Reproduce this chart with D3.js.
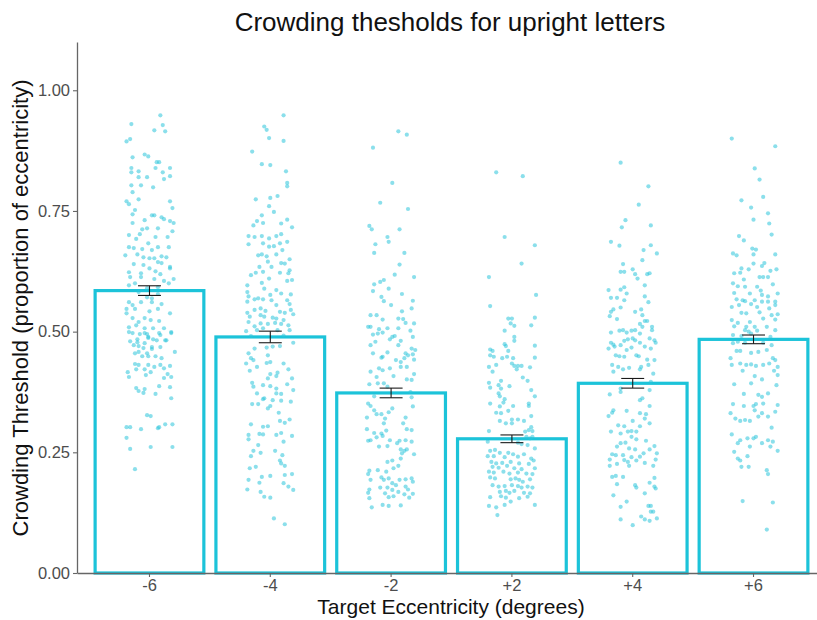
<!DOCTYPE html>
<html>
<head>
<meta charset="utf-8">
<script src="https://cdn.jsdelivr.net/npm/d3@7/dist/d3.min.js"></script>
<style>
  html, body { margin: 0; padding: 0; background: #ffffff; }
  svg { display: block; font-family: "Liberation Sans", Arial, Helvetica, sans-serif; }
</style>
</head>
<body>
<svg id="chart" width="817" height="620"></svg>
<script>
// Eccentricity conditions (degrees)
const categories = ["-6", "-4", "-2", "+2", "+4", "+6"];
// Mean crowding threshold per condition and its standard error
const means = [0.585, 0.489, 0.373, 0.278, 0.393, 0.484];
const stderrs = [0.010, 0.012, 0.010, 0.008, 0.010, 0.009];
const yTicks = [0, 0.25, 0.5, 0.75, 1.0];

// Individual thresholds per condition: [horizontal jitter (category units), threshold]
const ptsM6 = [[0.09,0.948],[-0.15,0.930],[0.11,0.928],[0.04,0.917],[0.13,0.915],[-0.16,0.899],[-0.19,0.894],[-0.14,0.861],[-0.04,0.867],[-0.01,0.863],[0.06,0.851],[0.08,0.851],[-0.15,0.839],[0.05,0.839],[0.17,0.839],[-0.09,0.832],[0.11,0.830],[-0.15,0.830],[0.17,0.822],[-0.09,0.820],[-0.02,0.820],[0.12,0.816],[-0.15,0.803],[-0.07,0.803],[0.03,0.799],[-0.14,0.789],[-0.19,0.770],[-0.09,0.774],[-0.17,0.764],[0.17,0.770],[0.19,0.756],[-0.12,0.752],[-0.14,0.743],[0.02,0.741],[0.04,0.741],[0.10,0.737],[0.12,0.733],[-0.04,0.731],[0.17,0.729],[-0.14,0.725],[0.20,0.725],[-0.06,0.712],[-0.02,0.714],[0.07,0.714],[0.19,0.708],[-0.17,0.700],[-0.08,0.702],[0.05,0.696],[0.15,0.696],[-0.11,0.692],[-0.01,0.683],[-0.17,0.675],[-0.13,0.673],[-0.06,0.671],[0.02,0.669],[0.07,0.675],[0.16,0.675],[-0.20,0.658],[-0.10,0.660],[-0.05,0.654],[0,0.652],[0.04,0.652],[0.10,0.656],[0.14,0.654],[-0.13,0.640],[-0.05,0.638],[0.07,0.644],[0.10,0.642],[0,0.631],[0.17,0.634],[-0.17,0.623],[-0.07,0.621],[0.05,0.625],[0.09,0.619],[0.17,0.631],[-0.16,0.613],[-0.07,0.613],[0.04,0.609],[0.12,0.605],[0.20,0.609],[-0.12,0.600],[-0.17,0.596],[-0.02,0.590],[0.07,0.592],[0.16,0.600],[-0.09,0.582],[-0.02,0.571],[0.02,0.569],[0.07,0.578],[-0.17,0.561],[-0.14,0.555],[-0.07,0.561],[0.02,0.561],[0.10,0.557],[-0.19,0.547],[-0.12,0.547],[0,0.542],[0.07,0.547],[0.17,0.538],[-0.19,0.538],[-0.14,0.528],[-0.09,0.520],[-0.04,0.528],[0.01,0.524],[0.08,0.522],[-0.17,0.509],[-0.11,0.513],[-0.04,0.507],[0.03,0.507],[0.12,0.507],[0.18,0.499],[-0.14,0.497],[-0.02,0.495],[0.08,0.497],[-0.10,0.484],[-0.01,0.487],[0.06,0.482],[0.13,0.482],[-0.13,0.472],[-0.05,0.466],[0.02,0.468],[0.09,0.468],[0.21,0.458],[-0.09,0.458],[-0.01,0.449],[-0.17,0.499],[-0.08,0.495],[-0.04,0.497],[-0.01,0.489],[0.03,0.484],[0.09,0.493],[0.18,0.497],[-0.16,0.480],[-0.10,0.478],[-0.09,0.470],[-0.04,0.476],[0.14,0.482],[-0.12,0.455],[-0.06,0.449],[-0.02,0.455],[0.02,0.464],[0.05,0.449],[0.10,0.445],[-0.12,0.433],[-0.09,0.431],[-0.01,0.431],[0.04,0.427],[0.09,0.431],[0.12,0.424],[0.17,0.429],[-0.18,0.416],[-0.11,0.422],[-0.04,0.422],[0.01,0.416],[0.15,0.412],[-0.17,0.406],[-0.03,0.410],[0.12,0.404],[0.18,0.406],[-0.11,0.383],[-0.09,0.377],[-0.05,0.373],[-0.04,0.381],[0.08,0.387],[0.17,0.385],[0.05,0.371],[0.18,0.362],[-0.02,0.327],[0.01,0.325],[-0.19,0.302],[-0.16,0.302],[-0.07,0.298],[0.07,0.300],[0.08,0.302],[0.13,0.308],[0.19,0.308],[-0.19,0.280],[-0.16,0.257],[0.01,0.261],[0.19,0.261],[-0.12,0.215]];

const ptsM4 = [[0.11,0.948],[-0.05,0.925],[-0.03,0.918],[-0.01,0.901],[0.11,0.895],[-0.15,0.873],[-0.07,0.847],[0,0.845],[0.13,0.832],[0.14,0.808],[0.14,0.801],[-0.12,0.774],[0,0.777],[0.06,0.781],[-0.01,0.760],[0.03,0.748],[-0.07,0.741],[-0.11,0.729],[-0.06,0.725],[-0.14,0.720],[0.09,0.724],[0.14,0.732],[0.18,0.716],[-0.18,0.698],[-0.13,0.696],[-0.07,0.698],[-0.01,0.693],[0.05,0.698],[0.09,0.702],[0.14,0.686],[-0.18,0.681],[-0.06,0.683],[-0.01,0.676],[0.03,0.677],[0.08,0.683],[0.10,0.669],[-0.10,0.658],[-0.07,0.660],[-0.03,0.656],[0.05,0.660],[-0.02,0.645],[0.09,0.642],[0.12,0.641],[0.16,0.650],[-0.09,0.634],[0.01,0.634],[0.16,0.627],[-0.16,0.617],[-0.12,0.622],[-0.06,0.624],[0.08,0.622],[0.15,0.621],[-0.01,0.610],[0.18,0.607],[-0.19,0.596],[-0.07,0.601],[0.14,0.605],[-0.05,0.589],[0.05,0.586],[0.09,0.579],[0.17,0.577],[-0.19,0.582],[-0.18,0.573],[-0.13,0.567],[-0.10,0.569],[-0.06,0.567],[0,0.576],[0.01,0.565],[0.14,0.565],[-0.19,0.562],[0.05,0.555],[0.16,0.557],[-0.13,0.545],[-0.19,0.539],[-0.08,0.548],[-0.04,0.543],[0.08,0.541],[0.12,0.539],[0.17,0.545],[-0.17,0.531],[-0.08,0.534],[-0.05,0.531],[0.02,0.529],[0.05,0.527],[0.11,0.524],[0.19,0.536],[-0.18,0.520],[-0.13,0.511],[-0.08,0.517],[-0.02,0.516],[0.04,0.518],[0.09,0.516],[0.15,0.513],[-0.20,0.501],[-0.11,0.503],[-0.06,0.507],[0.06,0.503],[0.16,0.503],[-0.16,0.491],[0.11,0.492],[0.19,0.477],[-0.13,0.465],[0.02,0.469],[-0.03,0.467],[0.08,0.470],[-0.18,0.455],[-0.16,0.445],[-0.14,0.441],[-0.20,0.434],[-0.02,0.451],[0,0.437],[-0.03,0.435],[0.11,0.434],[-0.11,0.427],[0.15,0.422],[-0.17,0.419],[0.06,0.415],[0,0.412],[0.18,0.403],[-0.02,0.403],[0.05,0.408],[-0.15,0.394],[-0.06,0.389],[0,0.387],[0.05,0.382],[0.14,0.391],[-0.14,0.386],[-0.11,0.372],[0.09,0.371],[0.05,0.372],[0.19,0.379],[-0.05,0.362],[0.02,0.358],[0.09,0.357],[0.17,0.355],[-0.15,0.350],[-0.10,0.350],[-0.06,0.360],[0,0.346],[-0.02,0.341],[0.07,0.332],[0.12,0.311],[0.16,0.318],[0.08,0.315],[-0.16,0.308],[-0.06,0.303],[-0.02,0.304],[-0.18,0.286],[-0.09,0.288],[-0.06,0.287],[0.05,0.286],[0.09,0.290],[0.18,0.284],[-0.18,0.277],[-0.10,0.265],[0.11,0.272],[-0.14,0.253],[-0.16,0.242],[-0.08,0.249],[0.04,0.253],[0.10,0.244],[0.08,0.233],[0.09,0.227],[0.12,0.222],[-0.12,0.220],[-0.17,0.217],[0.18,0.205],[0,0.201],[-0.07,0.199],[0.12,0.203],[-0.18,0.193],[-0.09,0.187],[0.11,0.186],[0.15,0.179],[-0.19,0.173],[0.19,0.172],[-0.08,0.168],[-0.05,0.158],[0,0.156],[0.03,0.113],[0.12,0.101]];

const ptsM2 = [[0.06,0.915],[0.13,0.908],[-0.15,0.881],[0.01,0.808],[-0.09,0.767],[0.14,0.754],[-0.18,0.719],[-0.16,0.712],[0.07,0.712],[-0.03,0.696],[-0.02,0.686],[-0.13,0.681],[-0.14,0.663],[0.11,0.663],[0.07,0.639],[0.03,0.618],[0.19,0.613],[-0.14,0.598],[-0.09,0.603],[-0.06,0.607],[-0.02,0.589],[-0.15,0.584],[0.09,0.578],[-0.08,0.572],[-0.06,0.563],[0,0.555],[0.18,0.564],[0.17,0.548],[-0.17,0.534],[-0.12,0.534],[-0.07,0.525],[0.06,0.527],[0.10,0.526],[0.09,0.542],[-0.19,0.510],[-0.17,0.510],[-0.10,0.505],[-0.03,0.507],[0.01,0.489],[0.06,0.507],[0.12,0.518],[0.16,0.502],[0.19,0.517],[-0.15,0.494],[-0.11,0.496],[-0.07,0.498],[-0.01,0.484],[0.03,0.491],[0.08,0.481],[0.18,0.489],[-0.17,0.472],[-0.13,0.479],[0.06,0.472],[0.17,0.465],[0.20,0.462],[-0.15,0.455],[-0.07,0.448],[-0.03,0.457],[-0.08,0.446],[0.12,0.455],[0.14,0.451],[0.18,0.453],[0.04,0.441],[0.08,0.437],[0.11,0.445],[0.19,0.442],[-0.17,0.417],[-0.10,0.424],[-0.07,0.420],[-0.01,0.424],[0.08,0.427],[0.13,0.427],[-0.12,0.406],[0.02,0.408],[0.13,0.401],[0.17,0.400],[0.19,0.412],[-0.18,0.391],[-0.11,0.393],[-0.06,0.393],[-0.03,0.386],[0.16,0.375],[0.17,0.364],[-0.14,0.366],[-0.19,0.351],[-0.17,0.346],[0.01,0.341],[-0.02,0.333],[-0.14,0.337],[0.18,0.345],[-0.12,0.329],[-0.08,0.329],[-0.20,0.322],[-0.05,0.320],[0.12,0.322],[-0.06,0.310],[0.10,0.310],[0.13,0.298],[-0.20,0.298],[-0.14,0.290],[-0.08,0.289],[-0.04,0.295],[0.17,0.296],[-0.17,0.275],[-0.12,0.281],[-0.07,0.284],[-0.01,0.275],[-0.19,0.274],[0.07,0.274],[0.12,0.275],[0.17,0.272],[-0.10,0.262],[-0.03,0.263],[0.05,0.269],[0.08,0.256],[0.11,0.253],[0.13,0.256],[0.19,0.246],[0.09,0.248],[0.01,0.233],[0.08,0.237],[-0.03,0.230],[0.06,0.222],[0.02,0.217],[-0.18,0.212],[-0.11,0.213],[-0.04,0.210],[-0.19,0.205],[-0.08,0.198],[-0.17,0.193],[-0.06,0.193],[-0.02,0.196],[0.01,0.186],[0.04,0.182],[0.07,0.193],[0.12,0.194],[0.17,0.196],[0.18,0.189],[-0.18,0.173],[-0.09,0.177],[-0.03,0.177],[0.01,0.172],[0.06,0.168],[0.12,0.179],[0.14,0.173],[-0.19,0.166],[-0.05,0.165],[0.11,0.163],[0.18,0.164],[-0.18,0.155],[-0.02,0.157],[0.02,0.159],[0.15,0.156],[-0.16,0.136],[-0.07,0.141],[-0.02,0.139],[0.08,0.140]];

const ptsP2 = [[-0.13,0.830],[0.09,0.822],[-0.06,0.696],[0.19,0.679],[0.08,0.641],[-0.19,0.613],[0.20,0.576],[-0.18,0.553],[-0.03,0.527],[0,0.527],[-0.01,0.517],[0.02,0.512],[0.19,0.529],[0.16,0.513],[-0.06,0.502],[0.02,0.489],[0.02,0.481],[-0.06,0.474],[-0.05,0.470],[0.19,0.471],[-0.18,0.463],[-0.16,0.460],[-0.03,0.460],[-0.18,0.451],[-0.15,0.448],[-0.08,0.445],[-0.04,0.448],[0.01,0.445],[0.19,0.446],[-0.13,0.431],[-0.19,0.427],[0,0.434],[0.02,0.429],[0.05,0.429],[0.08,0.429],[0.04,0.422],[0.15,0.426],[-0.16,0.417],[0.09,0.405],[0.13,0.398],[-0.09,0.398],[-0.19,0.394],[-0.11,0.389],[-0.02,0.387],[-0.18,0.384],[-0.09,0.382],[0.16,0.379],[-0.11,0.372],[-0.10,0.366],[0.19,0.366],[-0.06,0.360],[-0.07,0.353],[-0.18,0.351],[0.01,0.346],[0.14,0.351],[-0.10,0.345],[0.14,0.346],[-0.03,0.336],[-0.13,0.332],[-0.09,0.331],[0.16,0.325],[0.05,0.318],[0,0.318],[-0.10,0.315],[0.10,0.315],[-0.05,0.310],[0,0.310],[0.16,0.302],[0.14,0.296],[0.11,0.293],[0.17,0.294],[-0.19,0.294],[0.12,0.282],[0.15,0.279],[0.17,0.282],[-0.20,0.272],[0.05,0.270],[0.08,0.267],[0.13,0.265],[0.19,0.258],[-0.18,0.253],[-0.14,0.255],[-0.10,0.249],[-0.03,0.249],[0.01,0.246],[-0.20,0.242],[-0.15,0.242],[-0.06,0.240],[0.05,0.241],[0.10,0.246],[0.16,0.237],[0.18,0.233],[-0.17,0.230],[-0.13,0.227],[-0.08,0.228],[-0.01,0.230],[0.06,0.227],[0.14,0.226],[-0.16,0.220],[-0.11,0.218],[-0.04,0.222],[0.02,0.217],[0.08,0.215],[0.19,0.217],[-0.19,0.210],[-0.15,0.208],[-0.07,0.210],[-0.02,0.206],[0.05,0.208],[0.12,0.206],[0.17,0.205],[-0.18,0.198],[-0.14,0.196],[-0.01,0.194],[0.03,0.196],[0.06,0.193],[0.09,0.189],[0.15,0.194],[-0.16,0.182],[-0.11,0.179],[-0.06,0.180],[0,0.182],[0.05,0.180],[0.08,0.177],[0.13,0.179],[0.17,0.177],[-0.10,0.168],[-0.05,0.170],[-0.02,0.166],[0.02,0.170],[0.10,0.166],[0.15,0.165],[-0.18,0.157],[-0.09,0.159],[-0.05,0.156],[0.06,0.155],[0.13,0.158],[-0.19,0.139],[-0.13,0.136],[-0.06,0.141],[-0.01,0.148],[0.19,0.141],[-0.12,0.120]];

const ptsP4 = [[-0.10,0.850],[0.13,0.801],[0.05,0.763],[-0.06,0.731],[-0.09,0.716],[0.15,0.720],[-0.18,0.686],[-0.11,0.678],[0.15,0.679],[0.09,0.669],[0.20,0.662],[0.08,0.648],[-0.08,0.640],[-0.10,0.624],[-0.07,0.624],[0,0.629],[0.02,0.619],[0.04,0.610],[0.12,0.619],[0.14,0.621],[0.10,0.596],[-0.20,0.586],[-0.10,0.587],[-0.07,0.592],[-0.05,0.579],[-0.18,0.570],[-0.13,0.570],[-0.07,0.565],[0.10,0.573],[0.13,0.561],[-0.16,0.546],[-0.18,0.541],[-0.10,0.550],[0.02,0.541],[0.07,0.546],[0.08,0.534],[-0.19,0.532],[-0.13,0.526],[0.10,0.522],[0.12,0.522],[0.06,0.516],[0.08,0.510],[0.16,0.510],[0.16,0.503],[-0.18,0.498],[-0.11,0.502],[-0.08,0.503],[-0.05,0.498],[-0.01,0.502],[0.02,0.503],[0.06,0.496],[0.14,0.486],[0.18,0.482],[0.19,0.477],[-0.18,0.477],[-0.16,0.473],[-0.20,0.465],[-0.15,0.469],[-0.10,0.472],[-0.07,0.481],[-0.04,0.484],[0,0.486],[0.02,0.482],[0.06,0.477],[0.10,0.469],[0.15,0.465],[-0.05,0.462],[-0.01,0.467],[-0.14,0.451],[-0.11,0.449],[-0.07,0.448],[0.03,0.451],[0.05,0.449],[0.12,0.442],[0.18,0.441],[-0.17,0.431],[-0.12,0.427],[-0.03,0.425],[0.07,0.427],[0.13,0.431],[0.06,0.422],[-0.16,0.417],[-0.08,0.422],[0.17,0.413],[0.15,0.396],[0.14,0.379],[-0.19,0.370],[-0.10,0.375],[-0.10,0.382],[0.06,0.358],[0.08,0.362],[0.14,0.346],[-0.05,0.336],[-0.16,0.337],[-0.17,0.332],[-0.20,0.325],[0.06,0.331],[0.11,0.329],[0,0.315],[0.10,0.320],[0.14,0.310],[-0.12,0.306],[-0.07,0.304],[0.06,0.304],[-0.04,0.293],[-0.01,0.294],[0.03,0.293],[-0.18,0.293],[-0.10,0.289],[-0.01,0.282],[0.03,0.277],[0.11,0.274],[-0.10,0.269],[-0.06,0.270],[-0.13,0.262],[-0.03,0.258],[0.02,0.256],[0.14,0.256],[0.18,0.263],[0.20,0.248],[-0.17,0.246],[-0.14,0.244],[-0.08,0.244],[-0.01,0.240],[0.06,0.241],[0.09,0.248],[-0.19,0.235],[-0.07,0.234],[-0.04,0.230],[0.03,0.233],[0.10,0.228],[0.19,0.235],[-0.19,0.222],[-0.13,0.226],[-0.03,0.222],[0.17,0.222],[-0.17,0.199],[-0.14,0.201],[-0.08,0.199],[0.18,0.197],[-0.13,0.184],[0.02,0.182],[0.03,0.177],[0.14,0.187],[0.19,0.175],[-0.16,0.161],[0.10,0.165],[0.18,0.179],[-0.05,0.148],[-0.10,0.137],[0.13,0.139],[0.15,0.139],[0.15,0.127],[0.17,0.127],[0.07,0.117],[0.10,0.111],[0.14,0.108],[0.20,0.113],[-0.10,0.111],[0,0.099]];

const ptsP6 = [[-0.18,0.900],[0.18,0.884],[0.01,0.838],[0.05,0.815],[0.08,0.779],[-0.10,0.772],[-0.02,0.757],[0.12,0.745],[0,0.732],[0.13,0.724],[0.15,0.701],[-0.12,0.698],[-0.08,0.689],[-0.01,0.672],[0.02,0.670],[-0.17,0.662],[-0.14,0.658],[0,0.660],[0.18,0.660],[0.09,0.642],[0.07,0.636],[0,0.641],[-0.10,0.631],[-0.04,0.629],[0.14,0.626],[0.19,0.629],[-0.16,0.621],[-0.11,0.622],[0.05,0.613],[0.08,0.613],[0.12,0.613],[-0.08,0.608],[-0.17,0.600],[-0.13,0.594],[-0.07,0.593],[0.03,0.593],[0.16,0.598],[-0.16,0.580],[-0.03,0.579],[0.06,0.585],[0.07,0.576],[0.12,0.573],[0.20,0.579],[-0.14,0.567],[-0.09,0.565],[-0.07,0.563],[0.01,0.565],[0.07,0.562],[0.12,0.562],[0.18,0.562],[-0.18,0.551],[-0.12,0.555],[-0.02,0.557],[0.03,0.551],[0.13,0.548],[0.18,0.555],[-0.10,0.539],[-0.06,0.538],[0.05,0.540],[0.15,0.534],[0.08,0.527],[0.18,0.525],[-0.18,0.524],[-0.13,0.518],[-0.03,0.520],[0.20,0.536],[-0.16,0.511],[-0.06,0.510],[0.01,0.510],[0.11,0.510],[0.18,0.503],[-0.07,0.503],[-0.04,0.500],[0.03,0.502],[-0.17,0.493],[-0.10,0.491],[-0.02,0.496],[0.14,0.489],[-0.17,0.476],[-0.13,0.479],[-0.07,0.477],[0.08,0.477],[0.15,0.472],[-0.14,0.460],[-0.11,0.460],[-0.02,0.456],[0.04,0.458],[0.11,0.462],[-0.19,0.445],[0.16,0.445],[0.18,0.441],[-0.18,0.431],[-0.11,0.434],[-0.06,0.431],[-0.02,0.432],[0.02,0.429],[0.08,0.431],[0.13,0.434],[0.20,0.427],[-0.09,0.419],[0.01,0.408],[0.17,0.419],[0.20,0.410],[-0.16,0.391],[-0.02,0.393],[0.07,0.401],[0.19,0.389],[-0.08,0.371],[0.04,0.369],[0.07,0.365],[0.12,0.372],[-0.17,0.350],[-0.08,0.346],[0,0.346],[0.02,0.350],[0.08,0.351],[0.20,0.348],[-0.19,0.331],[-0.15,0.320],[-0.11,0.315],[-0.07,0.317],[-0.03,0.315],[0.01,0.337],[0.04,0.324],[0.07,0.331],[0.12,0.324],[0.18,0.334],[0.15,0.301],[-0.18,0.287],[-0.11,0.275],[-0.05,0.279],[0,0.279],[0.02,0.282],[0.07,0.269],[0.12,0.275],[0.16,0.272],[-0.13,0.269],[-0.03,0.262],[0.14,0.262],[0.20,0.253],[-0.16,0.251],[-0.05,0.242],[-0.13,0.237],[-0.11,0.233],[-0.10,0.220],[-0.04,0.220],[0.11,0.213],[0.12,0.205],[-0.09,0.149],[0.16,0.146],[0.11,0.090]];

const seriesPoints = [ptsM6, ptsM4, ptsM2, ptsP2, ptsP4, ptsP6];

const barColor = "#1cc3d9";
const pointColor = "#2cc5db";

const svg = d3.select("#chart");

const x = d3.scaleBand()
  .domain(categories)
  .range([77, 826])
  .paddingInner(0.1)
  .paddingOuter(0.15);
const y = d3.scaleLinear().domain([0, 1.1]).range([573, 42]);

const centerOf = c => x(c) + x.bandwidth() / 2;

// Mean bars
svg.append("g").selectAll("rect")
  .data(categories)
  .join("rect")
  .attr("x", c => x(c))
  .attr("y", (c, i) => y(means[i]))
  .attr("width", x.bandwidth())
  .attr("height", (c, i) => y(0) - y(means[i]))
  .attr("fill", "#ffffff")
  .attr("stroke", barColor)
  .attr("stroke-width", 3.2);

// Jittered individual thresholds
const flat = [];
seriesPoints.forEach((arr, i) => arr.forEach(p => flat.push({ c: categories[i], dx: p[0], v: p[1] })));
svg.append("g").selectAll("circle")
  .data(flat)
  .join("circle")
  .attr("cx", d => centerOf(d.c) + d.dx * x.step())
  .attr("cy", d => y(d.v))
  .attr("r", 2.1)
  .attr("fill", pointColor)
  .attr("fill-opacity", 0.55);

// Standard-error bars
const capHalf = 0.095 * x.step();
const eb = svg.append("g").attr("stroke", "#1a1a1a").attr("stroke-width", 1.1).attr("fill", "none");
categories.forEach((c, i) => {
  const cx = centerOf(c);
  const lo = y(means[i] - stderrs[i]), hi = y(means[i] + stderrs[i]);
  eb.append("line").attr("x1", cx).attr("x2", cx).attr("y1", lo).attr("y2", hi);
  eb.append("line").attr("x1", cx - capHalf).attr("x2", cx + capHalf).attr("y1", lo).attr("y2", lo);
  eb.append("line").attr("x1", cx - capHalf).attr("x2", cx + capHalf).attr("y1", hi).attr("y2", hi);
});

// Axes
const axisColor = "#666666";
const yAxis = svg.append("g")
  .attr("transform", "translate(77,0)")
  .call(d3.axisLeft(y).tickValues(yTicks).tickFormat(d3.format(".2f")).tickSize(4).tickSizeOuter(0).tickPadding(3));
const xAxis = svg.append("g")
  .attr("transform", "translate(0,573)")
  .call(d3.axisBottom(x).tickSize(4).tickSizeOuter(0).tickPadding(2));
[yAxis, xAxis].forEach(g => {
  g.select(".domain").attr("stroke", axisColor).attr("stroke-width", 1.3);
  g.selectAll(".tick line").attr("stroke", axisColor).attr("stroke-width", 1.1);
  g.selectAll(".tick text")
    .attr("fill", "#4d4d4d")
    .style("font-size", "16.5px")
    .style("font-family", "'Liberation Sans', Arial, sans-serif");
});

// Titles
svg.append("text")
  .attr("x", 450).attr("y", 31)
  .attr("text-anchor", "middle")
  .attr("fill", "#111")
  .style("font-size", "26px")
  .text("Crowding thesholds for upright letters");

svg.append("text")
  .attr("x", 451).attr("y", 614)
  .attr("text-anchor", "middle")
  .attr("fill", "#111")
  .style("font-size", "21px")
  .text("Target Eccentricity (degrees)");

svg.append("text")
  .attr("transform", "translate(28,308) rotate(-90)")
  .attr("text-anchor", "middle")
  .attr("fill", "#111")
  .style("font-size", "22px")
  .text("Crowding Threshold (proportion of eccentricity)");
</script>
</body>
</html>
